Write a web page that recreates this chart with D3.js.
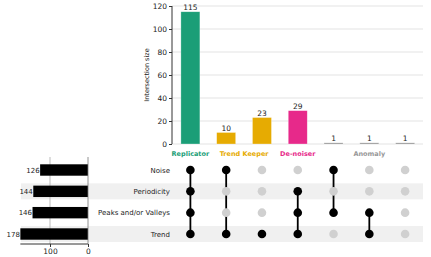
<!DOCTYPE html>
<html>
<head>
<meta charset="utf-8">
<script src="https://cdn.jsdelivr.net/npm/d3@7"></script>
<style>
  body { margin: 0; background: #fff; }
  svg text { font-family: "DejaVu Sans", sans-serif; }
</style>
</head>
<body>
<div id="chart"></div>
<script>
// sets, top to bottom in the matrix
var sets = ["Noise", "Periodicity", "Peaks and/or Valleys", "Trend"];
var setSizes = [126, 144, 146, 178];

// intersections, left to right
var counts = [115, 10, 23, 29, 1, 1, 1];
var members = [
  ["Noise", "Periodicity", "Peaks and/or Valleys", "Trend"],
  ["Noise", "Trend"],
  ["Trend"],
  ["Periodicity", "Peaks and/or Valleys", "Trend"],
  ["Noise", "Peaks and/or Valleys"],
  ["Peaks and/or Valleys", "Trend"],
  []
];
var groupOf = [0, 1, 1, 2, 3, 3, 3];
var groups = ["Replicator", "Trend Keeper", "De-noiser", "Anomaly"];
var groupColors = ["#1b9e77", "#e6ab02", "#e7298a", "#8c8c8c"];
var yTicks = [0, 20, 40, 60, 80, 100, 120];
var sizeTicks = [100, 0];

var W = 431, H = 257;
var svg = d3.select("#chart").append("svg").attr("width", W).attr("height", H);

var cols = d3.range(counts.length);
var x = d3.scaleBand().domain(cols).range([172.5, 423]);
var cx = function (i) { return x(i) + x.bandwidth() / 2; };
var y = d3.scaleLinear().domain([0, 120]).range([144, 6]);
var row = d3.scalePoint().domain(sets).range([170, 234]);
var sx = d3.scaleLinear().domain([0, 100]).range([88, 50]);

// row stripes
svg.selectAll(".stripe")
  .data(sets.filter(function (d, i) { return i % 2 == 1; }))
  .enter().append("rect")
  .attr("x", 21).attr("width", 402)
  .attr("y", function (d) { return row(d) - 8; })
  .attr("height", 16)
  .attr("fill", "#f0f0f0");

// grid lines for the intersection bars
svg.selectAll(".grid")
  .data(yTicks)
  .enter().append("line")
  .attr("x1", 172).attr("x2", 423)
  .attr("y1", function (d) { return y(d); })
  .attr("y2", function (d) { return y(d); })
  .attr("stroke", "#e3e3e3").attr("stroke-width", 1);

// intersection bars
svg.selectAll(".bar")
  .data(cols)
  .enter().append("rect")
  .attr("x", function (i) { return cx(i) - 9.5; })
  .attr("width", 19)
  .attr("y", function (i) { return y(counts[i]); })
  .attr("height", function (i) { return y(0) - y(counts[i]); })
  .attr("fill", function (i) { return groupColors[groupOf[i]]; })
  .attr("stroke", "#ffffff").attr("stroke-opacity", 0.5).attr("stroke-width", 0.6);

svg.selectAll(".val")
  .data(cols)
  .enter().append("text")
  .attr("x", function (i) { return cx(i); })
  .attr("y", function (i) { return y(counts[i]) - 2; })
  .attr("text-anchor", "middle")
  .attr("font-size", 7.5)
  .attr("fill", "#222")
  .text(function (i) { return counts[i]; });

var yAxis = svg.append("g")
  .attr("transform", "translate(172,0)")
  .call(d3.axisLeft(y).tickValues(yTicks).tickSize(3).tickPadding(2));
yAxis.select(".domain").attr("stroke", "#333").attr("d", "M0," + y(0) + "V" + y(120));
yAxis.selectAll("line").attr("stroke", "#333");
yAxis.selectAll("text").attr("font-size", 7.5).attr("fill", "#222").attr("font-family", "DejaVu Sans");

svg.append("text")
  .attr("transform", "translate(149," + ((y(0) + y(120)) / 2) + ") rotate(-90)")
  .attr("text-anchor", "middle")
  .attr("font-size", 6.5)
  .attr("fill", "#222")
  .text("Intersection size");

// group labels under bars
svg.selectAll(".glabel")
  .data(groups)
  .enter().append("text")
  .attr("x", function (g, gi) {
    var c = cols.filter(function (i) { return groupOf[i] == gi; });
    return d3.mean(c, cx);
  })
  .attr("y", 156)
  .attr("text-anchor", "middle")
  .attr("font-size", 6.5)
  .attr("font-weight", "bold")
  .attr("fill", function (g, gi) { return groupColors[gi] == "#8c8c8c" ? "#999999" : groupColors[gi]; })
  .text(function (g) { return g; });

// matrix: connecting lines
svg.selectAll(".conn")
  .data(cols.filter(function (i) { return members[i].length > 1; }))
  .enter().append("line")
  .attr("x1", cx).attr("x2", cx)
  .attr("y1", function (i) { return d3.min(members[i], row); })
  .attr("y2", function (i) { return d3.max(members[i], row); })
  .attr("stroke", "#000").attr("stroke-width", 1.8);

// matrix dots
var cells = [];
cols.forEach(function (i) {
  sets.forEach(function (s) {
    cells.push({ col: i, set: s, on: members[i].indexOf(s) >= 0 });
  });
});
svg.selectAll(".dot")
  .data(cells)
  .enter().append("circle")
  .attr("cx", function (d) { return cx(d.col); })
  .attr("cy", function (d) { return row(d.set); })
  .attr("r", 4.3)
  .attr("fill", function (d) { return d.on ? "#000" : "#d0d0d0"; });

// set names
svg.selectAll(".setname")
  .data(sets)
  .enter().append("text")
  .attr("x", 170)
  .attr("y", function (d) { return row(d) + 2.5; })
  .attr("text-anchor", "end")
  .attr("font-size", 7)
  .attr("fill", "#222")
  .text(function (d) { return d; });

// set size bars
svg.append("line")
  .attr("x1", sx(100)).attr("x2", sx(100))
  .attr("y1", 157).attr("y2", 244)
  .attr("stroke", "#bbbbbb").attr("stroke-width", 1);

svg.selectAll(".sbar")
  .data(sets)
  .enter().append("rect")
  .attr("x", function (d, i) { return sx(setSizes[i]); })
  .attr("width", function (d, i) { return sx(0) - sx(setSizes[i]); })
  .attr("y", function (d) { return row(d) - 5.7; })
  .attr("height", 11.4)
  .attr("fill", "#000");

svg.selectAll(".sval")
  .data(sets)
  .enter().append("text")
  .attr("x", function (d, i) { return sx(setSizes[i]) - 0.5; })
  .attr("y", function (d) { return row(d) + 2.5; })
  .attr("text-anchor", "end")
  .attr("font-size", 7)
  .attr("fill", "#222")
  .text(function (d, i) { return setSizes[i]; });

var sAxis = svg.append("g")
  .attr("transform", "translate(0,244)")
  .call(d3.axisBottom(sx).tickValues(sizeTicks).tickSize(3).tickPadding(2));
sAxis.select(".domain").attr("stroke", "#333").attr("d", "M" + sx(178) + ",0H" + sx(0));
sAxis.selectAll("line").attr("stroke", "#333");
sAxis.selectAll("text").attr("font-size", 7.5).attr("fill", "#222").attr("font-family", "DejaVu Sans");

svg.append("line")
  .attr("x1", sx(0)).attr("x2", sx(0))
  .attr("y1", 157).attr("y2", 244)
  .attr("stroke", "#777").attr("stroke-width", 0.8);
</script>
</body>
</html>
